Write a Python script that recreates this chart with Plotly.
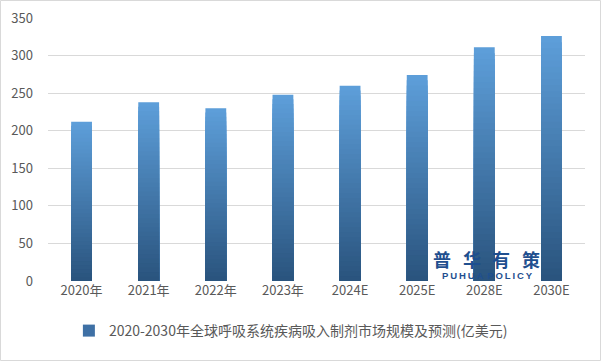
import plotly.graph_objects as go

categories = ["2020年", "2021年", "2022年", "2023年", "2024E", "2025E", "2028E", "2030E"]
values = [212, 238, 230, 248, 260, 274, 311, 326]
series_name = "2020-2030年全球呼吸系统疾病吸入制剂市场规模及预测(亿美元)"
y_ticks = [0, 50, 100, 150, 200, 250, 300, 350]

top_rgb = (93, 158, 217)
bot_rgb = (42, 84, 126)
N = 40

fig = go.Figure()
for k in range(N):
    f = 1 - k / N
    t = k / (N - 1)
    c = tuple(round(top_rgb[i] + (bot_rgb[i] - top_rgb[i]) * t) for i in range(3))
    fig.add_trace(go.Bar(
        x=categories, y=[v * f for v in values],
        marker=dict(color="rgb(%d,%d,%d)" % c, line=dict(width=0)),
        showlegend=False, hoverinfo="skip",
    ))
fig.add_trace(go.Bar(
    x=categories, y=[None] * len(categories), name=series_name,
    marker=dict(color="rgb(62,112,165)", line=dict(width=0)), showlegend=True,
))

L, R, T, B = 48, 16, 18, 80
W, H = 601, 361
pw, ph = W - L - R, H - T - B

logo_color = "#1f4f8f"
logo_chars = ["普", "华", "有", "策"]
logo_x = [442, 472, 501, 531]
annotations = []
for ch, px in zip(logo_chars, logo_x):
    annotations.append(dict(text="<b>%s</b>" % ch, xref="paper", yref="paper",
                            x=(px - L) / pw, y=(281 - 259) / ph, showarrow=False,
                            font=dict(size=18, color=logo_color, family="Noto Sans CJK SC"),
                            xanchor="center", yanchor="middle", borderpad=0))
annotations.append(dict(text="<b>" + "\u2009".join(list("PUHUA")) + "\u2009\u2009" +
                        "\u2009".join(list("POLICY")) + "</b>",
                        xref="paper", yref="paper", x=(487 - L) / pw, y=(281 - 275) / ph,
                        showarrow=False, font=dict(size=9.5, color=logo_color, family="Liberation Sans"),
                        xanchor="center", yanchor="middle", borderpad=0))

fig.update_layout(
    width=W, height=H,
    margin=dict(l=L, r=R, t=T, b=B, autoexpand=False),
    barmode="overlay", bargap=0.69,
    paper_bgcolor="white", plot_bgcolor="white",
    font=dict(family="Noto Sans CJK SC, Noto Sans, sans-serif", size=13, color="#595959"),
    xaxis=dict(showgrid=False, showline=False, ticks="", tickfont=dict(size=13, color="#595959")),
    yaxis=dict(range=[0, 350], tickvals=y_ticks, showgrid=True, gridcolor="#d9d9d9", gridwidth=1,
               zeroline=False, showline=False, ticks="", ticklabelstandoff=14,
               tickfont=dict(size=13, color="#595959")),
    legend=dict(orientation="h", xref="container", x=0.484, xanchor="center",
                yref="container", y=1 - 331 / H, yanchor="middle",
                font=dict(size=14, color="#595959"), itemwidth=30, bgcolor="rgba(0,0,0,0)"),
    shapes=[dict(type="rect", xref="paper", yref="paper",
                 x0=-(L - 0.5) / pw, x1=1 + (R - 0.5) / pw,
                 y0=-(B - 0.5) / ph, y1=1 + (T - 0.5) / ph,
                 line=dict(color="#d9d9d9", width=1), fillcolor="rgba(0,0,0,0)", layer="below")],
    annotations=annotations,
)

fig.write_html("out.html", config={"displayModeBar": False},
               post_script="document.body.style.margin='0';document.body.style.padding='0';")
